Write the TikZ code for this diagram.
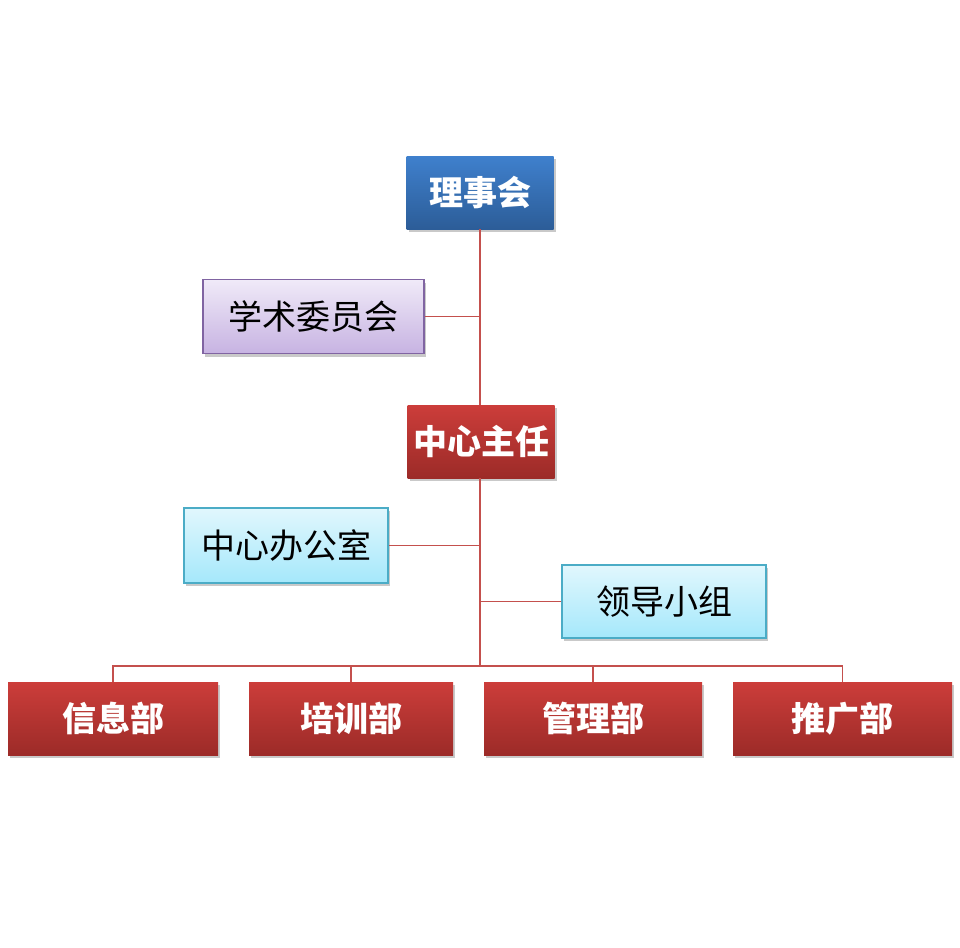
\documentclass[tikz,border=0pt]{standalone}
\usepackage{fontspec}
\newfontfamily\cjk{Noto Sans CJK SC}
\usetikzlibrary{shadows}
\definecolor{boardtop}{HTML}{3F80CD}
\definecolor{boardbot}{HTML}{2C5D98}
\definecolor{redtop}{HTML}{CC3D3A}
\definecolor{redbot}{HTML}{9C2B28}
\definecolor{purptop}{HTML}{F0EAF8}
\definecolor{purpbot}{HTML}{C7B3E2}
\definecolor{purpline}{HTML}{8064A2}
\definecolor{cyantop}{HTML}{E1F7FD}
\definecolor{cyanbot}{HTML}{A5E8FB}
\definecolor{cyanline}{HTML}{4BACC6}
\definecolor{linkred}{HTML}{C4504D}

\begin{document}
\begin{tikzpicture}[
  x=1pt, y=-1pt,
  every node/.style={font=\cjk\fontsize{34}{40}\selectfont},
  box/.style={rectangle, minimum height=73pt, inner sep=0pt, align=center,
    drop shadow={shadow xshift=2pt, shadow yshift=-3pt, opacity=0.3, fill=black!70}},
  boardbox/.style={box, top color=boardtop, bottom color=boardbot, text=white, font=\cjk\bfseries\fontsize{34}{40}\selectfont},
  redbox/.style={box, top color=redtop, bottom color=redbot, text=white, font=\cjk\bfseries\fontsize{34}{40}\selectfont},
  committeebox/.style={box, draw=purpline, line width=1.5pt, top color=purptop, bottom color=purpbot, minimum height=74pt},
  officebox/.style={box, draw=cyanline, line width=1.5pt, top color=cyantop, bottom color=cyanbot},
  link/.style={draw=linkred, line width=1.8pt},
]
\useasboundingbox (0,0) rectangle (960,947);

% Top levels
\node[boardbox, minimum width=147pt] (board) at (480,192.5) {理事会};
\node[committeebox, minimum width=221pt] (committee) at (313.5,316.5) {学术委员会};
\node[redbox, minimum width=147pt] (head) at (481,441.5) {中心主任};
\node[officebox, minimum width=204pt, minimum height=75pt] (office) at (286,545.5) {中心办公室};
\node[officebox, minimum width=204pt] (leader) at (664,601.5) {领导小组};

% Departments
\node[redbox, minimum width=210pt] (info) at (113,718.5) {信息部};
\node[redbox, minimum width=204pt] (train) at (351,718.5) {培训部};
\node[redbox, minimum width=218pt] (manage) at (593,718.5) {管理部};
\node[redbox, minimum width=219pt] (promo) at (842.5,718.5) {推广部};

\coordinate (bus) at (480,666);

% Connectors
\draw[link] (board.south) -- (board.south |- head.north);
\draw[link] (committee.east) -- (committee.east -| board.south);
\draw[link] (head.south -| bus) -- (bus);
\draw[link] (office.east) -- (office.east -| bus);
\draw[link] (leader.west) -- (leader.west -| bus);
\draw[link] (info.north) |- (bus) -| (promo.north);
\draw[link] (train.north) -- (train.north |- bus);
\draw[link] (manage.north) -- (manage.north |- bus);
\end{tikzpicture}
\end{document}
